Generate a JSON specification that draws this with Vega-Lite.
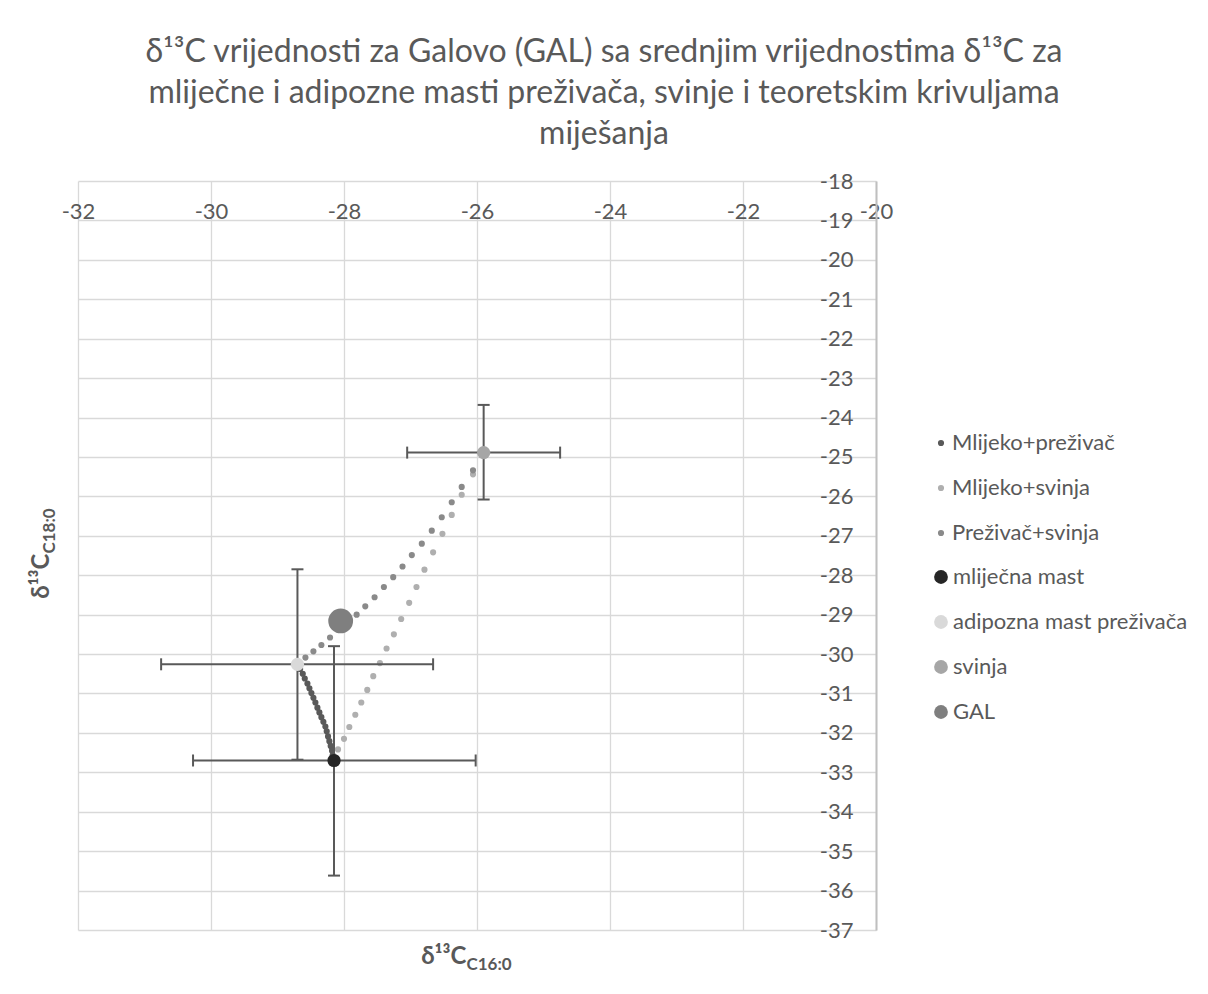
{
  "$schema": "https://vega.github.io/schema/vega-lite/v6.json",
  "width": 798,
  "height": 749,
  "autosize": {"type": "none"},
  "padding": {"left": 78, "top": 181, "right": 332, "bottom": 64},
  "background": "white",
  "title": {
    "text": ["δ¹³C vrijednosti za Galovo (GAL) sa srednjim vrijednostima δ¹³C  za", "mliječne i adipozne masti preživača, svinje i teoretskim krivuljama", "miješanja"],
    "anchor": "middle", "frame": "group", "dx": 127, "fontSize": 32, "font": "Lato", "fontWeight": "normal", "color": "#595959", "lineHeight": 41, "offset": 19
  },
  "config": {"view": {"stroke": null}},
  "resolve": {"axis": {"x": "independent", "y": "independent"}},
  "datasets": {
    "mix": [
      {"series": "Mlijeko+preživač", "x": -28.70, "y": -30.26},
      {"series": "Mlijeko+preživač", "x": -28.66, "y": -30.38},
      {"series": "Mlijeko+preživač", "x": -28.62, "y": -30.50},
      {"series": "Mlijeko+preživač", "x": -28.59, "y": -30.62},
      {"series": "Mlijeko+preživač", "x": -28.55, "y": -30.75},
      {"series": "Mlijeko+preživač", "x": -28.52, "y": -30.87},
      {"series": "Mlijeko+preživač", "x": -28.49, "y": -30.99},
      {"series": "Mlijeko+preživač", "x": -28.46, "y": -31.11},
      {"series": "Mlijeko+preživač", "x": -28.43, "y": -31.23},
      {"series": "Mlijeko+preživač", "x": -28.40, "y": -31.36},
      {"series": "Mlijeko+preživač", "x": -28.37, "y": -31.48},
      {"series": "Mlijeko+preživač", "x": -28.34, "y": -31.60},
      {"series": "Mlijeko+preživač", "x": -28.31, "y": -31.72},
      {"series": "Mlijeko+preživač", "x": -28.28, "y": -31.84},
      {"series": "Mlijeko+preživač", "x": -28.26, "y": -31.96},
      {"series": "Mlijeko+preživač", "x": -28.24, "y": -32.09},
      {"series": "Mlijeko+preživač", "x": -28.22, "y": -32.21},
      {"series": "Mlijeko+preživač", "x": -28.20, "y": -32.33},
      {"series": "Mlijeko+preživač", "x": -28.18, "y": -32.45},
      {"series": "Mlijeko+preživač", "x": -28.17, "y": -32.57},
      {"series": "Mlijeko+preživač", "x": -28.15, "y": -32.70},
      {"series": "Mlijeko+svinja", "x": -28.15, "y": -32.70},
      {"series": "Mlijeko+svinja", "x": -28.09, "y": -32.42},
      {"series": "Mlijeko+svinja", "x": -28.00, "y": -32.15},
      {"series": "Mlijeko+svinja", "x": -27.92, "y": -31.85},
      {"series": "Mlijeko+svinja", "x": -27.83, "y": -31.54},
      {"series": "Mlijeko+svinja", "x": -27.74, "y": -31.23},
      {"series": "Mlijeko+svinja", "x": -27.65, "y": -30.91},
      {"series": "Mlijeko+svinja", "x": -27.56, "y": -30.56},
      {"series": "Mlijeko+svinja", "x": -27.46, "y": -30.23},
      {"series": "Mlijeko+svinja", "x": -27.36, "y": -29.86},
      {"series": "Mlijeko+svinja", "x": -27.25, "y": -29.50},
      {"series": "Mlijeko+svinja", "x": -27.14, "y": -29.11},
      {"series": "Mlijeko+svinja", "x": -27.02, "y": -28.70},
      {"series": "Mlijeko+svinja", "x": -26.91, "y": -28.30},
      {"series": "Mlijeko+svinja", "x": -26.79, "y": -27.86},
      {"series": "Mlijeko+svinja", "x": -26.66, "y": -27.42},
      {"series": "Mlijeko+svinja", "x": -26.52, "y": -26.95},
      {"series": "Mlijeko+svinja", "x": -26.38, "y": -26.47},
      {"series": "Mlijeko+svinja", "x": -26.23, "y": -25.96},
      {"series": "Mlijeko+svinja", "x": -26.06, "y": -25.44},
      {"series": "Mlijeko+svinja", "x": -25.90, "y": -24.89},
      {"series": "Preživač+svinja", "x": -28.70, "y": -30.26},
      {"series": "Preživač+svinja", "x": -28.58, "y": -30.09},
      {"series": "Preživač+svinja", "x": -28.46, "y": -29.93},
      {"series": "Preživač+svinja", "x": -28.34, "y": -29.77},
      {"series": "Preživač+svinja", "x": -28.21, "y": -29.58},
      {"series": "Preživač+svinja", "x": -28.08, "y": -29.39},
      {"series": "Preživač+svinja", "x": -27.95, "y": -29.19},
      {"series": "Preživač+svinja", "x": -27.81, "y": -29.00},
      {"series": "Preživač+svinja", "x": -27.68, "y": -28.79},
      {"series": "Preživač+svinja", "x": -27.54, "y": -28.56},
      {"series": "Preživač+svinja", "x": -27.40, "y": -28.30},
      {"series": "Preživač+svinja", "x": -27.26, "y": -28.05},
      {"series": "Preživač+svinja", "x": -27.12, "y": -27.78},
      {"series": "Preživač+svinja", "x": -26.98, "y": -27.49},
      {"series": "Preživač+svinja", "x": -26.83, "y": -27.20},
      {"series": "Preživač+svinja", "x": -26.68, "y": -26.87},
      {"series": "Preživač+svinja", "x": -26.53, "y": -26.53},
      {"series": "Preživač+svinja", "x": -26.38, "y": -26.15},
      {"series": "Preživač+svinja", "x": -26.23, "y": -25.76},
      {"series": "Preživač+svinja", "x": -26.06, "y": -25.34},
      {"series": "Preživač+svinja", "x": -25.90, "y": -24.89}
    ],
    "ends": [
      {"series": "mliječna mast", "x": -28.15, "y": -32.70, "xlo": -30.27, "xhi": -26.02, "ylo": -35.62, "yhi": -29.80},
      {"series": "adipozna mast preživača", "x": -28.70, "y": -30.26, "xlo": -30.75, "xhi": -26.66, "ylo": -32.68, "yhi": -27.85},
      {"series": "svinja", "x": -25.90, "y": -24.89, "xlo": -27.05, "xhi": -24.75, "ylo": -26.08, "yhi": -23.68}
    ],
    "gal": [
      {"series": "GAL", "x": -28.05, "y": -29.16}
    ]
  },
  "layer": [
    {
      "data": {"name": "mix"},
      "mark": {"type": "point", "filled": true, "opacity": 1, "size": 38},
      "encoding": {
        "x": {"field": "x", "type": "quantitative",
          "scale": {"domain": [-32, -20], "nice": false, "zero": false},
          "axis": {"orient": "top", "offset": -39.4, "values": [-32, -30, -28, -26, -24, -22, -20], "labelExpr": "'' + datum.value", "domain": false, "ticks": false, "grid": false, "labelFont": "Lato", "labelFontSize": 22, "labelColor": "#595959", "labelPadding": -3, "labelFlush": false, "labelOverlap": false, "title": null}},
        "y": {"field": "y", "type": "quantitative",
          "scale": {"domain": [-37, -18], "nice": false, "zero": false},
          "axis": {"orient": "left", "offset": -798, "values": [-37, -36, -35, -34, -33, -32, -31, -30, -29, -28, -27, -26, -25, -24, -23, -22, -21, -20, -19, -18], "labelExpr": "'' + datum.value", "domain": true, "domainColor": "#bfbfbf", "domainWidth": 2, "ticks": false, "grid": false, "labelFont": "Lato", "labelFontSize": 22, "labelColor": "#595959", "labelPadding": 23, "labelFlush": false, "labelOverlap": false, "title": null}},
        "color": {"field": "series", "type": "nominal",
          "scale": {"domain": ["Mlijeko+preživač", "Mlijeko+svinja", "Preživač+svinja"], "range": ["#595959", "#afafaf", "#8a8a8a"]},
          "legend": {"title": null, "orient": "none", "legendX": 852, "legendY": 251, "labelFont": "Lato", "labelFontSize": 22, "labelColor": "#595959", "labelLimit": 400, "rowPadding": 23, "labelOffset": 0, "padding": 0, "symbolType": "circle", "symbolSize": 38, "symbolStrokeWidth": 0}}
      }
    },
    {
      "data": {"name": "ends"},
      "mark": {"type": "rule", "color": "#595959", "strokeWidth": 2},
      "encoding": {
        "x": {"field": "xlo", "type": "quantitative",
          "axis": {"orient": "bottom", "values": [-32, -30, -28, -26, -24, -22, -20], "grid": true, "gridColor": "#d9d9d9", "gridWidth": 1.3, "labels": false, "ticks": false, "domain": false, "title": "δ¹³C", "titleFont": "Lato", "titleFontSize": 24, "titleFontWeight": "bold", "titleColor": "#595959", "titleAlign": "right", "titleX": 388, "titleY": 33, "titleBaseline": "alphabetic"}},
        "x2": {"field": "xhi"},
        "y": {"field": "y", "type": "quantitative",
          "axis": {"orient": "left", "values": [-37, -36, -35, -34, -33, -32, -31, -30, -29, -28, -27, -26, -25, -24, -23, -22, -21, -20, -19, -18], "grid": true, "gridColor": "#d9d9d9", "gridWidth": 1.3, "labels": false, "ticks": false, "domain": false, "title": "δ¹³C", "titleFont": "Lato", "titleFontSize": 24, "titleFontWeight": "bold", "titleColor": "#595959", "titleAngle": -90, "titleAlign": "right", "titleX": -30, "titleY": 372, "titleBaseline": "alphabetic"}}
      }
    },
    {
      "data": {"name": "ends"},
      "mark": {"type": "rule", "color": "#595959", "strokeWidth": 2},
      "encoding": {
        "x": {"field": "x", "type": "quantitative",
          "axis": {"orient": "bottom", "grid": false, "labels": false, "ticks": false, "domain": false, "title": "C16:0", "titleFont": "Lato", "titleFontSize": 17, "titleFontWeight": "bold", "titleColor": "#595959", "titleAlign": "left", "titleX": 388, "titleY": 39, "titleBaseline": "alphabetic"}},
        "y": {"field": "ylo", "type": "quantitative",
          "axis": {"orient": "left", "grid": false, "labels": false, "ticks": false, "domain": false, "title": "C18:0", "titleFont": "Lato", "titleFontSize": 17, "titleFontWeight": "bold", "titleColor": "#595959", "titleAngle": -90, "titleAlign": "left", "titleX": -24, "titleY": 372, "titleBaseline": "alphabetic"}},
        "y2": {"field": "yhi"}
      }
    },
    {
      "data": {"name": "ends"},
      "mark": {"type": "point", "shape": "M0,-1L0,1", "size": 144, "filled": false, "color": "#595959", "strokeWidth": 2, "opacity": 1},
      "encoding": {
        "x": {"field": "xlo", "type": "quantitative", "axis": null},
        "y": {"field": "y", "type": "quantitative", "axis": null}
      }
    },
    {
      "data": {"name": "ends"},
      "mark": {"type": "point", "shape": "M0,-1L0,1", "size": 144, "filled": false, "color": "#595959", "strokeWidth": 2, "opacity": 1},
      "encoding": {
        "x": {"field": "xhi", "type": "quantitative", "axis": null},
        "y": {"field": "y", "type": "quantitative", "axis": null}
      }
    },
    {
      "data": {"name": "ends"},
      "mark": {"type": "point", "shape": "M-1,0L1,0", "size": 144, "filled": false, "color": "#595959", "strokeWidth": 2, "opacity": 1},
      "encoding": {
        "x": {"field": "x", "type": "quantitative", "axis": null},
        "y": {"field": "ylo", "type": "quantitative", "axis": null}
      }
    },
    {
      "data": {"name": "ends"},
      "mark": {"type": "point", "shape": "M-1,0L1,0", "size": 144, "filled": false, "color": "#595959", "strokeWidth": 2, "opacity": 1},
      "encoding": {
        "x": {"field": "x", "type": "quantitative", "axis": null},
        "y": {"field": "yhi", "type": "quantitative", "axis": null}
      }
    },
    {
      "data": {"name": "ends"},
      "mark": {"type": "point", "filled": true, "opacity": 1, "size": 175, "strokeWidth": 0},
      "encoding": {
        "x": {"field": "x", "type": "quantitative", "axis": null},
        "y": {"field": "y", "type": "quantitative", "axis": null},
        "fill": {"field": "series", "type": "nominal",
          "scale": {"domain": ["mliječna mast", "adipozna mast preživača", "svinja", "GAL"], "range": ["#262626", "#d9d9d9", "#a6a6a6", "#7f7f7f"]},
          "legend": {"title": null, "orient": "none", "legendX": 852, "legendY": 385, "labelFont": "Lato", "labelFontSize": 22, "labelColor": "#595959", "labelLimit": 400, "rowPadding": 23, "labelOffset": 1, "padding": 0, "symbolType": "circle", "symbolSize": 190, "symbolStrokeWidth": 0}}
      }
    },
    {
      "data": {"name": "gal"},
      "mark": {"type": "point", "filled": true, "opacity": 1, "size": 616, "strokeWidth": 0},
      "encoding": {
        "x": {"field": "x", "type": "quantitative", "axis": null},
        "y": {"field": "y", "type": "quantitative", "axis": null},
        "fill": {"field": "series", "type": "nominal"}
      }
    }
  ]
}
